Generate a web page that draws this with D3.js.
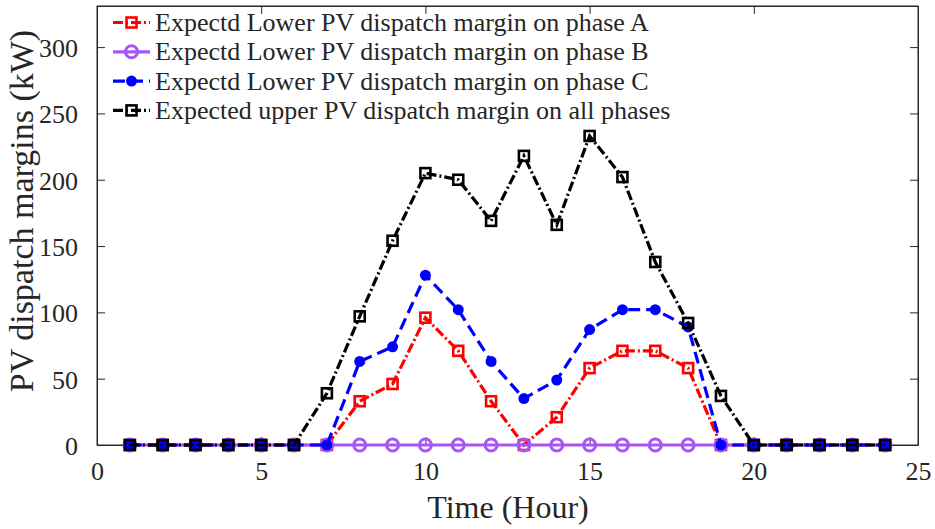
<!DOCTYPE html>
<html>
<head>
<meta charset="utf-8">
<script src="https://cdn.jsdelivr.net/npm/d3@7"></script>
<style>
  html, body { margin: 0; padding: 0; background: #fff; }
  svg { display: block; }
  text { font-family: "Liberation Serif", "Times New Roman", serif; }
</style>
</head>
<body>
<div id="chart"></div>
<script>
// hours on the x axis
var hours = [1,2,3,4,5,6,7,8,9,10,11,12,13,14,15,16,17,18,19,20,21,22,23,24];
// lower margin, phase A (kW)
var phaseA = [0,0,0,0,0,0,0,33,46,96,71,33,0,21,58,71,71,58,0,0,0,0,0,0];
// lower margin, phase B (kW)
var phaseB = [0,0,0,0,0,0,0,0,0,0,0,0,0,0,0,0,0,0,0,0,0,0,0,0];
// lower margin, phase C (kW)
var phaseC = [0,0,0,0,0,0,0,63,74,128,102,63,35,49,87,102,102,89,0,0,0,0,0,0];
// upper margin, all phases (kW)
var upperAll = [0,0,0,0,0,0,39,97,154,205,200,169,218,166,233,202,138,92,37,0,0,0,0,0];

var legendLabels = [
  "Expectd Lower PV dispatch margin on phase A",
  "Expectd Lower PV dispatch margin on phase B",
  "Expectd Lower PV dispatch margin on phase C",
  "Expected upper PV dispatch margin on all phases"
];
var xTicks = [0,5,10,15,20,25];
var yTicks = [0,50,100,150,200,250,300];

var width = 935, height = 529;
var plotL = 97, plotR = 918, plotT = 6, plotB = 445;
var fontFam = "Liberation Serif, Times New Roman, serif";

var svg = d3.select("#chart").append("svg")
  .attr("width", width).attr("height", height);

var x = d3.scaleLinear().domain([0, 25]).range([plotL, plotR]);
var y = d3.scaleLinear().domain([0, 331]).range([plotB, plotT]);

var txt = "#262626";

// box
svg.append("rect")
  .attr("x", plotL).attr("y", plotT)
  .attr("width", plotR - plotL).attr("height", plotB - plotT)
  .attr("fill", "none").attr("stroke", txt).attr("stroke-width", 1);

// axes with inward ticks
var gx = svg.append("g").attr("transform", "translate(0," + plotB + ")")
  .call(d3.axisBottom(x).tickValues(xTicks).tickSizeInner(-8).tickSizeOuter(0).tickPadding(17));
var gy = svg.append("g").attr("transform", "translate(" + plotL + ",0)")
  .call(d3.axisLeft(y).tickValues(yTicks).tickSizeInner(-8).tickSizeOuter(0).tickPadding(19));
svg.append("g").attr("transform", "translate(0," + plotT + ")")
  .call(d3.axisTop(x).tickValues(xTicks).tickSizeInner(-8).tickSizeOuter(0).tickFormat(""));
svg.append("g").attr("transform", "translate(" + plotR + ",0)")
  .call(d3.axisRight(y).tickValues(yTicks).tickSizeInner(-8).tickSizeOuter(0).tickFormat(""));

svg.selectAll(".domain").attr("stroke", txt);
svg.selectAll(".tick line").attr("stroke", txt);
gx.selectAll("text").attr("font-size", 26).attr("fill", txt).attr("font-family", fontFam);
gy.selectAll("text").attr("font-size", 26).attr("fill", txt).attr("font-family", fontFam)
  .attr("dy", "0.36em");

// axis titles
svg.append("text").attr("x", 508).attr("y", 518)
  .attr("text-anchor", "middle").attr("font-size", 32).attr("fill", txt)
  .attr("font-family", fontFam)
  .text("Time (Hour)");
svg.append("text")
  .attr("transform", "translate(33,211) rotate(-90)")
  .attr("text-anchor", "middle").attr("font-size", 34).attr("fill", txt)
  .attr("font-family", fontFam)
  .text("PV dispatch margins (kW)");

var series = [
  { values: phaseA, color: "#ff0000", dash: "10,3,2,3", marker: "square", size: 10 },
  { values: phaseB, color: "#a855f7", dash: null, marker: "circle", size: 14 },
  { values: phaseC, color: "#0000ff", dash: "12,6", marker: "dot", size: 11 },
  { values: upperAll, color: "#000000", dash: "10,3,2,3", marker: "square", size: 10 }
];

var line = d3.line()
  .x(function (d) { return x(d.h); })
  .y(function (d) { return y(d.v); });

function drawMarker(g, m, cx, cy) {
  if (m.marker === "square") {
    g.append("rect").attr("x", cx - m.size / 2).attr("y", cy - m.size / 2)
      .attr("width", m.size).attr("height", m.size)
      .attr("fill", "none").attr("stroke", m.color).attr("stroke-width", 2.6);
  } else if (m.marker === "circle") {
    g.append("circle").attr("cx", cx).attr("cy", cy).attr("r", m.size / 2 - 1)
      .attr("fill", "none").attr("stroke", m.color).attr("stroke-width", 3);
  } else {
    g.append("circle").attr("cx", cx).attr("cy", cy).attr("r", m.size / 2)
      .attr("fill", m.color).attr("stroke", "none");
  }
}

series.forEach(function (s) {
  var pts = hours.map(function (h, i) { return { h: h, v: s.values[i] }; });
  var g = svg.append("g");
  g.append("path").datum(pts)
    .attr("fill", "none").attr("stroke", s.color).attr("stroke-width", 3.2)
    .attr("stroke-dasharray", s.dash).attr("d", line);
  pts.forEach(function (p) { drawMarker(g, s, x(p.h), y(p.v)); });
});

// legend
var lg = svg.append("g");
series.forEach(function (s, i) {
  var ly = 22.5 + i * 29.3;
  var row = lg.append("g");
  row.append("line").attr("x1", 113).attr("x2", 150).attr("y1", ly).attr("y2", ly)
    .attr("stroke", s.color).attr("stroke-width", 3.2).attr("stroke-dasharray", s.dash);
  drawMarker(row, s, 131.5, ly);
  row.append("text").attr("x", 155).attr("y", ly).attr("dy", "0.33em")
    .attr("font-size", 26).attr("fill", txt).attr("font-family", fontFam)
    .text(legendLabels[i]);
});
</script>
</body>
</html>
